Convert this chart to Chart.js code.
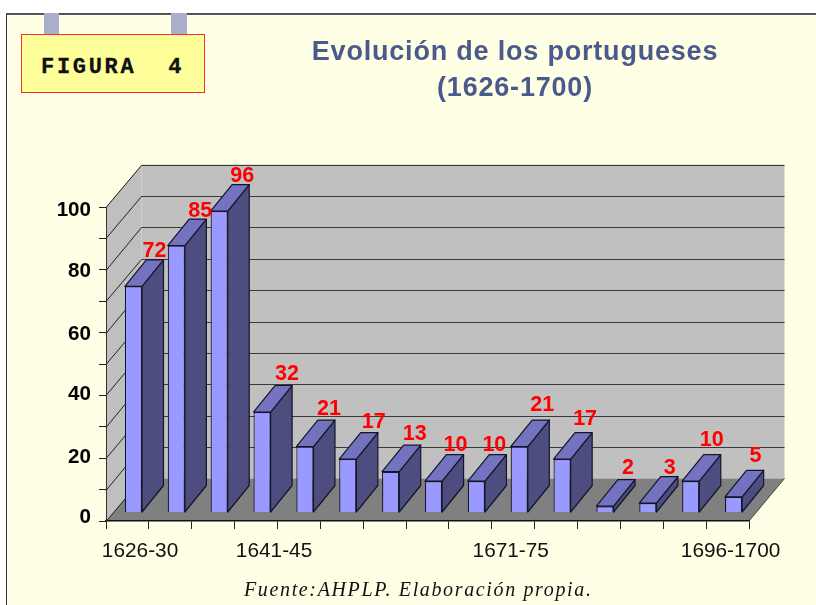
<!DOCTYPE html>
<html lang="es">
<head>
<meta charset="utf-8">
<title>Evolución de los portugueses</title>
<script src="https://cdn.jsdelivr.net/npm/chart.js@4"></script>
<style>
  html,body{margin:0;padding:0;background:#fff;width:816px;height:605px;overflow:hidden}
  #frame{position:absolute;left:6px;top:12.5px;width:810px;height:593px;box-sizing:border-box;background:#FFFFE6;border-left:1.5px solid #333;border-top:2px solid #555}
  #c{position:absolute;left:0;top:0;width:816px;height:605px}
  .tab{position:absolute;top:13px;height:22px;width:15px;background:#A9AEC9}
  #box{position:absolute;left:21px;top:34px;width:184px;height:59px;box-sizing:border-box;background:#FFFF99;border:1.5px solid #FF2A2A;
       font:bold 22px "Liberation Mono",monospace;letter-spacing:2.7px;color:#111;white-space:pre;padding:21px 0 0 19px;line-height:24px;-webkit-text-stroke:.3px #111}
  #title{position:absolute;left:265px;top:33px;width:500px;text-align:center;font:bold 27px/36px "Liberation Sans",Arial,sans-serif;letter-spacing:.8px;color:#4B5A8C}
  #src{position:absolute;left:244px;top:578px;font:italic 20px/22px "Liberation Serif","Times New Roman",serif;letter-spacing:1.64px;color:#111;white-space:nowrap}
</style>
</head>
<body>
<div id="frame"></div>
<canvas id="c" width="816" height="605"></canvas>
<div class="tab" style="left:44px"></div>
<div class="tab" style="left:171px;width:16px"></div>
<div id="box">FIGURA  4</div>
<div id="title">Evolución de los portugueses<br>(1626-1700)</div>
<div id="src">Fuente:AHPLP. Elaboración propia.</div>
<script>
const categories = ["1626-30","1631-35","1636-40","1641-45","1646-50","1651-55","1656-60","1661-65","1666-70","1671-75","1676-80","1681-85","1686-90","1691-95","1696-1700"];
const values = [72,85,96,32,21,17,13,10,10,21,17,2,3,10,5];
const shownCategories = ["1626-30","1641-45","1671-75","1696-1700"];
const yLabelStep = 20;

const xLabelShift = {"1626-30":12.6,"1641-45":18,"1671-75":-2.5,"1696-1700":3};
const yLabelShift = {"100":3,"80":2,"60":2,"40":-1,"20":-1,"0":-4};
const valueNudgeX = [-1,2,1,3,2,4,2,0,-4,1,1,1,0,-1,0];
const valueNudgeY = [4,5,5,2,2,2,2,3,3,-2,-1,1,4,-2,-1];
const wall = {dx:35.5, dy:-42.5};
const barDepth = {dx:21.5, dy:-26.5};
const barShift = {x:6, y:-8.5};

function poly(ctx, pts, fill, stroke, lw){
  ctx.beginPath();
  pts.forEach((p,i)=> i?ctx.lineTo(p[0],p[1]):ctx.moveTo(p[0],p[1]));
  ctx.closePath();
  if(fill){ctx.fillStyle=fill;ctx.fill();}
  if(stroke){ctx.strokeStyle=stroke;ctx.lineWidth=lw||1;ctx.stroke();}
}

const chart3d = {
  id:'chart3d',
  beforeDraw(chart){
    const ctx=chart.ctx, a=chart.chartArea, y=chart.scales.y;
    const l=a.left, r=a.right, t=a.top, b=a.bottom, dx=wall.dx, dy=wall.dy;
    ctx.save();
    poly(ctx,[[l+dx,t+dy],[r+dx,t+dy],[r+dx,b+dy],[l+dx,b+dy]],'#C0C0C0');
    poly(ctx,[[l,t],[l+dx,t+dy],[l+dx,b+dy],[l,b]],'#BFBFBF');
    poly(ctx,[[l,b],[r,b],[r+dx,b+dy],[l+dx,b+dy]],'#808080');
    ctx.lineWidth=1;
    y.ticks.forEach(tk=>{
      const py=y.getPixelForValue(tk.value);
      const back=Math.round(py+dy)+.5;
      if(tk.value>0){
        ctx.strokeStyle='#3a3a3a';
        ctx.beginPath();ctx.moveTo(l+dx,back);ctx.lineTo(r+dx,back);ctx.stroke();
      }
      ctx.strokeStyle='#222';
      ctx.beginPath();ctx.moveTo(l,Math.round(py)+.5);ctx.lineTo(l+dx,back);ctx.stroke();
    });
    ctx.strokeStyle='#444';
    ctx.beginPath();ctx.moveTo(r,b);ctx.lineTo(r+dx,b+dy);ctx.stroke();
    ctx.restore();
    chart.scales.x.getLabelItems(a).forEach(it=>{
      if(xLabelShift[it.label]!==undefined && !it._moved){it.options.translation[0]+=xLabelShift[it.label];it._moved=true;}
    });
    y.getLabelItems(a).forEach(it=>{
      if(yLabelShift[it.label]!==undefined && !it._moved){it.options.translation[1]+=yLabelShift[it.label];it._moved=true;}
    });
  },
  beforeDatasetDraw(chart,args){
    const ctx=chart.ctx, d=barDepth;
    ctx.save();
    ctx.translate(barShift.x,barShift.y);
    ctx.lineJoin='round';
    args.meta.data.forEach(bar=>{
      const p=bar.getProps(['x','y','base','width'],true);
      const xl=p.x-p.width/2, xr=p.x+p.width/2, yt=p.y, yb=p.base;
      poly(ctx,[[xr,yt],[xr+d.dx,yt+d.dy],[xr+d.dx,yb+d.dy],[xr,yb]],'#4D4D7F','#15152a',1.2);
      poly(ctx,[[xl,yt],[xl+d.dx,yt+d.dy],[xr+d.dx,yt+d.dy],[xr,yt]],'#7373BF','#15152a',1.2);
    });
  },
  afterDatasetDraw(chart){ chart.ctx.restore(); },
  afterDatasetsDraw(chart){
    const ctx=chart.ctx, meta=chart.getDatasetMeta(0);
    ctx.save();
    ctx.fillStyle='#FF0000';
    ctx.font='bold 21.5px "Liberation Sans",Arial,sans-serif';
    ctx.textAlign='center';ctx.textBaseline='middle';
    meta.data.forEach((bar,i)=>{
      ctx.fillText(String(values[i]),bar.x+barShift.x+22+valueNudgeX[i],bar.y+barShift.y-39.5+valueNudgeY[i]);
    });
    ctx.restore();
  }
};

new Chart(document.getElementById('c'),{
  type:'bar',
  data:{labels:categories,datasets:[{
    data:values,backgroundColor:'#9999FF',borderColor:'#15152a',borderWidth:1.2,
    barPercentage:0.8,categoryPercentage:0.5,clip:false
  }]},
  plugins:[chart3d],
  options:{
    responsive:false,animation:false,
    layout:{padding:{top:207,right:67,left:0,bottom:0}},
    plugins:{legend:{display:false},tooltip:{enabled:false}},
    scales:{
      x:{
        afterFit(s){s.height=84;},
        border:{color:'#111',width:1.5},
        grid:{display:true,drawOnChartArea:false,drawTicks:true,tickLength:8,color:'#222',offset:true},
        ticks:{autoSkip:false,maxRotation:0,minRotation:0,padding:10,color:'#111',
          font:{family:'"Liberation Sans",Arial,sans-serif',size:20.8},
          callback(v){const t=categories[v];return shownCategories.includes(t)?t:'';}}
      },
      y:{
        min:0,max:100,
        afterFit(s){s.width=106;},
        border:{color:'#333',width:1},
        grid:{display:true,drawOnChartArea:false,drawTicks:true,tickLength:7,color:'#222'},
        ticks:{stepSize:10,padding:8,color:'#000',
          font:{family:'"Liberation Sans",Arial,sans-serif',size:20.6,weight:'bold'},
          callback(v){return v%yLabelStep===0?String(v):'';}}
      }
    }
  }
});
</script>
</body>
</html>
